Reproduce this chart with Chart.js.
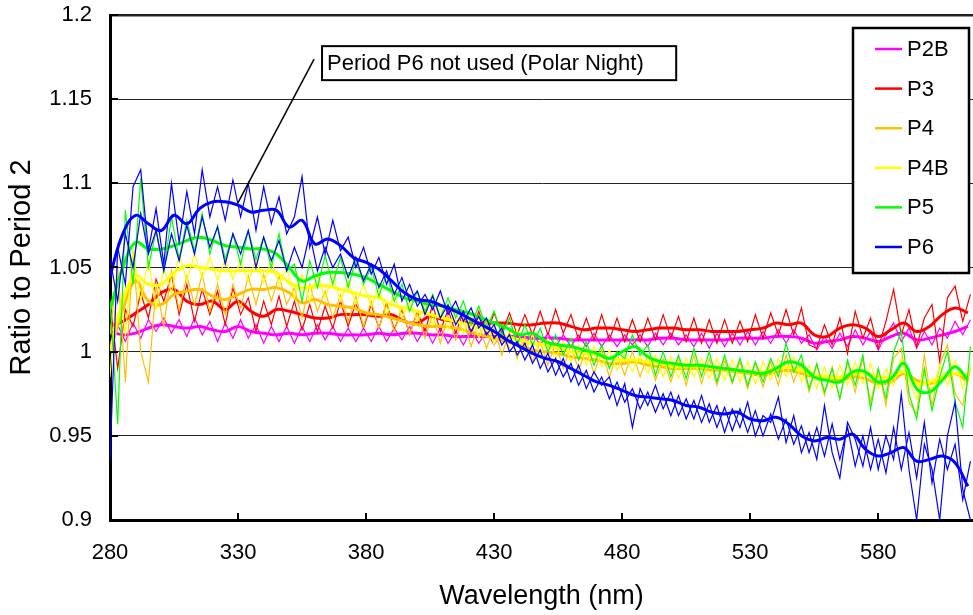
<!DOCTYPE html>
<html lang="en">
<head>
  <meta charset="UTF-8">
  <title>Ratio to Period 2</title>
  <script src="https://cdn.jsdelivr.net/npm/chart.js"></script>
  <style>
    html, body { margin: 0; padding: 0; background: #fff; }
    canvas { display: block; }
  </style>
</head>
<body>
  <canvas id="ratioChart" width="973" height="615"></canvas>
  <script>
    // wavelengths (nm)
    const wlSmooth = [
      280, 285, 290, 295, 300, 305, 310, 315, 320, 325,
      330, 335, 340, 345, 350, 355, 360, 365, 370, 375,
      380, 385, 390, 395, 400, 405, 410, 415, 420, 425,
      430, 435, 440, 445, 450, 455, 460, 465, 470, 475,
      480, 485, 490, 495, 500, 505, 510, 515, 520, 525,
      530, 535, 540, 545, 550, 555, 560, 565, 570, 575,
      580, 585, 590, 595, 600, 605, 610, 615
    ];
    const wlRaw = [
      280, 283, 286, 289, 292, 295, 298, 301, 304, 307,
      310, 313, 316, 319, 322, 325, 328, 331, 334, 337,
      340, 343, 346, 349, 352, 355, 358, 361, 364, 367,
      370, 373, 376, 379, 382, 385, 388, 391, 394, 397,
      400, 403, 406, 409, 412, 415, 418, 421, 424, 427,
      430, 433, 436, 439, 442, 445, 448, 451, 454, 457,
      460, 463, 466, 469, 472, 475, 478, 481, 484, 487,
      490, 493, 496, 499, 502, 505, 508, 511, 514, 517,
      520, 523, 526, 529, 532, 535, 538, 541, 544, 547,
      550, 553, 556, 559, 562, 565, 568, 571, 574, 577,
      580, 583, 586, 589, 592, 595, 598, 601, 604, 607,
      610, 613, 616
    ];

    // smoothed ratios
    const p2bSmooth = [
      1.012, 1.010, 1.011, 1.014, 1.016, 1.015, 1.014, 1.015, 1.013, 1.012,
      1.015, 1.012, 1.011, 1.010, 1.011, 1.010, 1.011, 1.011, 1.010, 1.010,
      1.010, 1.011, 1.010, 1.011, 1.011, 1.010, 1.010, 1.009, 1.009, 1.009,
      1.009, 1.009, 1.009, 1.008, 1.008, 1.008, 1.007, 1.007, 1.007, 1.007,
      1.007, 1.007, 1.007, 1.008, 1.008, 1.007, 1.007, 1.007, 1.007, 1.008,
      1.008, 1.008, 1.009, 1.009, 1.008, 1.005, 1.006, 1.007, 1.009, 1.008,
      1.006, 1.009, 1.011, 1.007, 1.008, 1.010, 1.012, 1.015
    ];
    const p3Smooth = [
      1.015, 1.018, 1.023, 1.028, 1.035, 1.037, 1.030, 1.028, 1.030, 1.025,
      1.030, 1.024, 1.021, 1.025, 1.024, 1.022, 1.020, 1.020, 1.022, 1.022,
      1.022, 1.021, 1.022, 1.018, 1.017, 1.021, 1.019, 1.018, 1.017, 1.017,
      1.017, 1.017, 1.016, 1.016, 1.017, 1.017, 1.015, 1.013, 1.014, 1.014,
      1.013, 1.012, 1.013, 1.014, 1.014, 1.013, 1.013, 1.012, 1.012, 1.012,
      1.013, 1.014, 1.017, 1.016, 1.017, 1.010, 1.009, 1.014, 1.016, 1.014,
      1.009, 1.013, 1.017, 1.012, 1.015, 1.022, 1.026, 1.023
    ];
    const p4Smooth = [
      1.000, 1.025, 1.042, 1.030, 1.028, 1.034, 1.036, 1.037, 1.033, 1.031,
      1.034, 1.037, 1.037, 1.038, 1.035, 1.029, 1.031, 1.028, 1.027, 1.026,
      1.023, 1.022, 1.020, 1.018, 1.016, 1.015, 1.015, 1.014, 1.012, 1.010,
      1.008, 1.006, 1.004, 1.001, 1.000, 0.999, 0.997, 0.996, 0.995, 0.993,
      0.993, 0.994, 0.992, 0.991, 0.990, 0.990, 0.990, 0.989, 0.989, 0.988,
      0.987, 0.986, 0.988, 0.989, 0.987, 0.985, 0.985, 0.983, 0.985, 0.984,
      0.981, 0.982, 0.987, 0.983, 0.981, 0.984, 0.987, 0.982
    ];
    const p4bSmooth = [
      1.000, 1.030, 1.045, 1.040, 1.040, 1.047, 1.051, 1.050, 1.049, 1.048,
      1.048, 1.048, 1.048, 1.047, 1.041, 1.038, 1.039, 1.039, 1.037, 1.035,
      1.033, 1.032, 1.028, 1.026, 1.024, 1.022, 1.020, 1.018, 1.016, 1.014,
      1.011, 1.009, 1.007, 1.005, 1.004, 1.002, 1.000, 0.999, 0.998, 0.996,
      0.995, 0.995, 0.994, 0.993, 0.991, 0.991, 0.991, 0.991, 0.990, 0.989,
      0.988, 0.988, 0.990, 0.991, 0.989, 0.986, 0.985, 0.985, 0.987, 0.987,
      0.985, 0.985, 0.988, 0.981, 0.982, 0.985, 0.987, 0.986
    ];
    const p5Smooth = [
      1.025, 1.050, 1.065, 1.061, 1.061, 1.063, 1.066, 1.068, 1.066, 1.063,
      1.062, 1.061, 1.061, 1.058, 1.050, 1.042, 1.045, 1.047, 1.047, 1.046,
      1.044, 1.040, 1.036, 1.032, 1.030, 1.028, 1.027, 1.025, 1.023, 1.020,
      1.017, 1.014, 1.010, 1.011, 1.006, 1.004, 1.003, 1.001, 0.999, 0.996,
      1.000, 1.003, 0.997, 0.994, 0.993, 0.992, 0.992, 0.991, 0.990, 0.989,
      0.988, 0.987, 0.990, 0.994, 0.992, 0.985, 0.983, 0.982, 0.988, 0.988,
      0.982, 0.984, 0.993, 0.978, 0.976, 0.983, 0.991, 0.983
    ];
    const p6Smooth = [
      1.045, 1.070, 1.081, 1.076, 1.072, 1.081, 1.076, 1.085, 1.089, 1.089,
      1.087, 1.083, 1.084, 1.084, 1.074, 1.078, 1.064, 1.067, 1.063, 1.056,
      1.053, 1.049, 1.042, 1.035, 1.031, 1.030, 1.027, 1.024, 1.020, 1.016,
      1.012, 1.007, 1.003, 0.999, 0.996, 0.994, 0.990, 0.986, 0.982, 0.980,
      0.977, 0.974, 0.973, 0.972, 0.971, 0.968, 0.967, 0.964, 0.963, 0.964,
      0.960, 0.959, 0.961, 0.957, 0.950, 0.947, 0.949, 0.948, 0.951, 0.942,
      0.938, 0.940, 0.943, 0.935, 0.936, 0.938, 0.934, 0.920
    ];

    // raw ratios
    const p2bRaw = [
      1.005, 1.016, 1.006, 1.017, 1.008, 1.019, 1.012, 1.020, 1.011, 1.019,
      1.009, 1.020, 1.010, 1.018, 1.006, 1.017, 1.008, 1.019, 1.008, 1.016,
      1.005, 1.015, 1.006, 1.015, 1.005, 1.015, 1.006, 1.016, 1.007, 1.015,
      1.006, 1.014, 1.006, 1.014, 1.006, 1.015, 1.006, 1.014, 1.007, 1.015,
      1.006, 1.014, 1.005, 1.014, 1.005, 1.012, 1.004, 1.013, 1.005, 1.012,
      1.004, 1.012, 1.005, 1.012, 1.004, 1.011, 1.004, 1.011, 1.003, 1.010,
      1.003, 1.010, 1.003, 1.011, 1.003, 1.010, 1.003, 1.010, 1.004, 1.010,
      1.003, 1.011, 1.004, 1.011, 1.004, 1.010, 1.003, 1.011, 1.002, 1.011,
      1.003, 1.011, 1.004, 1.012, 1.004, 1.012, 1.005, 1.013, 1.005, 1.013,
      1.005, 1.010, 1.001, 1.009, 1.002, 1.011, 1.003, 1.013, 1.004, 1.012,
      1.001, 1.010, 1.017, 1.006, 1.014, 1.002, 1.012, 1.004, 1.014, 1.008,
      1.018, 1.010, 1.019
    ];
    const p3Raw = [
      1.030, 0.990, 1.025, 1.015, 1.035, 1.020, 1.043, 1.030, 1.046, 1.022,
      1.040, 1.018, 1.037, 1.022, 1.036, 1.016, 1.038, 1.022, 1.032, 1.012,
      1.030, 1.016, 1.033, 1.015, 1.030, 1.013, 1.028, 1.012, 1.027, 1.014,
      1.030, 1.015, 1.029, 1.014, 1.028, 1.014, 1.029, 1.013, 1.025, 1.010,
      1.024, 1.012, 1.028, 1.012, 1.025, 1.011, 1.024, 1.010, 1.024, 1.010,
      1.023, 1.011, 1.023, 1.010, 1.022, 1.010, 1.024, 1.010, 1.025, 1.011,
      1.022, 1.007, 1.020, 1.007, 1.022, 1.007, 1.020, 1.006, 1.019, 1.006,
      1.020, 1.007, 1.022, 1.008, 1.021, 1.006, 1.020, 1.005, 1.019, 1.005,
      1.019, 1.005, 1.018, 1.006, 1.022, 1.008, 1.023, 1.010, 1.025, 1.010,
      1.026, 1.004, 1.002, 1.016, 1.004, 1.020, 0.999, 1.024, 1.008, 1.020,
      1.002, 1.018, 1.037, 1.010, 1.025, 1.003, 1.020, 1.028, 0.994, 1.032,
      1.039, 1.018, 1.034
    ];
    const p4Raw = [
      1.010, 1.050, 0.982, 1.060, 1.000, 0.982, 1.040, 1.015, 1.048, 1.025,
      1.045, 1.028, 1.046, 1.024, 1.040, 1.022, 1.040, 1.026, 1.045, 1.028,
      1.046, 1.030, 1.045, 1.028, 1.038, 1.020, 1.040, 1.024, 1.036, 1.020,
      1.034, 1.018, 1.033, 1.015, 1.030, 1.014, 1.028, 1.012, 1.026, 1.010,
      1.023, 1.008, 1.022, 1.005, 1.021, 1.007, 1.020, 1.003, 1.017, 1.002,
      1.014, 0.998, 1.012, 0.996, 1.009, 0.994, 1.006, 0.992, 1.005, 0.990,
      1.004, 0.989, 1.002, 0.987, 1.001, 0.985, 0.999, 0.986, 1.000, 0.985,
      0.998, 0.983, 0.996, 0.982, 0.996, 0.980, 0.998, 0.981, 0.996, 0.980,
      0.995, 0.981, 0.994, 0.978, 0.993, 0.979, 0.994, 0.980, 0.998, 0.982,
      0.994, 0.976, 0.992, 0.974, 0.991, 0.972, 0.994, 0.976, 0.996, 0.970,
      0.990, 0.968, 0.996, 1.002, 0.970, 0.963, 0.998, 0.968, 0.992, 1.004,
      0.975, 0.968, 0.990
    ];
    const p4bRaw = [
      0.985, 1.045, 1.010, 1.060, 1.030, 1.055, 1.025, 1.050, 1.035, 1.058,
      1.042, 1.058, 1.044, 1.056, 1.042, 1.055, 1.043, 1.054, 1.042, 1.055,
      1.041, 1.054, 1.040, 1.050, 1.032, 1.046, 1.030, 1.046, 1.032, 1.045,
      1.030, 1.042, 1.028, 1.040, 1.027, 1.038, 1.022, 1.034, 1.020, 1.030,
      1.018, 1.028, 1.016, 1.026, 1.013, 1.024, 1.011, 1.022, 1.008, 1.018,
      1.004, 1.015, 1.002, 1.013, 1.000, 1.010, 0.998, 1.008, 0.996, 1.006,
      0.994, 1.004, 0.992, 1.003, 0.991, 1.001, 0.989, 0.999, 0.988, 0.998,
      0.987, 0.998, 0.985, 0.997, 0.984, 0.996, 0.985, 0.996, 0.984, 0.996,
      0.983, 0.995, 0.982, 0.994, 0.981, 0.994, 0.983, 0.996, 0.985, 0.997,
      0.982, 0.992, 0.978, 0.991, 0.978, 0.992, 0.980, 0.994, 0.981, 0.993,
      0.978, 0.990, 0.980, 0.996, 0.982, 0.972, 0.990, 0.976, 0.992, 0.980,
      0.995, 0.978, 0.992
    ];
    const p5Raw = [
      1.030, 0.957, 1.084, 1.040, 1.103, 1.050, 1.072, 1.048, 1.080, 1.055,
      1.078, 1.060, 1.082, 1.058, 1.075, 1.055, 1.070, 1.052, 1.072, 1.055,
      1.068, 1.050, 1.070, 1.048, 1.052, 1.030, 1.054, 1.038, 1.057, 1.040,
      1.056, 1.038, 1.055, 1.040, 1.050, 1.033, 1.046, 1.030, 1.040, 1.024,
      1.036, 1.024, 1.034, 1.020, 1.032, 1.020, 1.030, 1.016, 1.027, 1.014,
      1.024, 1.010, 1.020, 1.004, 1.016, 1.004, 1.014, 1.000, 1.010, 0.998,
      1.008, 0.995, 1.006, 0.992, 1.004, 0.990, 1.000, 0.996, 1.010, 0.998,
      1.004, 0.986, 1.000, 0.985, 0.998, 0.984, 1.002, 0.985, 1.000, 0.982,
      0.998, 0.982, 0.996, 0.980, 0.994, 0.982, 0.996, 0.985, 1.005, 0.988,
      0.998, 0.978, 0.993, 0.976, 0.990, 0.972, 0.995, 0.980, 0.998, 0.966,
      0.990, 0.972, 1.000, 1.012, 0.975, 0.960, 0.990, 0.965, 0.985, 1.000,
      0.970, 0.955, 1.003
    ];
    const p6RawA = [
      0.935, 1.062, 1.040, 1.098, 1.108, 1.060, 1.085, 1.052, 1.100, 1.065,
      1.095, 1.070, 1.108, 1.080, 1.098, 1.078, 1.102, 1.080, 1.100, 1.072,
      1.098, 1.076, 1.092, 1.070, 1.080, 1.104, 1.062, 1.080, 1.058, 1.078,
      1.060, 1.068, 1.050, 1.062, 1.046, 1.056, 1.040, 1.052, 1.030, 1.040,
      1.027, 1.034, 1.025, 1.036, 1.022, 1.030, 1.018, 1.026, 1.014, 1.020,
      1.008, 1.014, 1.000, 1.006, 0.995, 1.004, 0.990, 0.999, 0.986, 0.996,
      0.982, 0.992, 0.978, 0.988, 0.980, 0.985, 0.968, 0.981, 0.955, 0.978,
      0.968, 0.980, 0.966, 0.976, 0.962, 0.972, 0.960, 0.974, 0.958, 0.968,
      0.952, 0.966, 0.955, 0.970, 0.950, 0.962, 0.958, 0.973, 0.946, 0.962,
      0.940, 0.952, 0.936, 0.968, 0.940, 0.925, 0.958, 0.948, 0.932, 0.955,
      0.930, 0.950, 0.936, 0.975, 0.930, 0.900, 0.945, 0.930, 0.900, 0.950,
      0.970, 0.918, 0.900
    ];
    const p6RawB = [
      1.055, 1.030, 1.070, 1.050, 1.082, 1.058, 1.072, 1.048, 1.070, 1.054,
      1.075, 1.058, 1.080, 1.062, 1.074, 1.052, 1.070, 1.058, 1.072, 1.050,
      1.068, 1.054, 1.066, 1.048, 1.062, 1.050, 1.070, 1.048, 1.062, 1.050,
      1.058, 1.044, 1.056, 1.042, 1.052, 1.038, 1.048, 1.034, 1.044, 1.030,
      1.036, 1.022, 1.033, 1.020, 1.028, 1.016, 1.024, 1.012, 1.021, 1.010,
      1.016, 1.004, 1.010, 0.998, 1.005, 0.993, 1.001, 0.988, 0.996, 0.985,
      0.993, 0.980, 0.989, 0.976, 0.985, 0.972, 0.982, 0.970, 0.978, 0.966,
      0.976, 0.964, 0.975, 0.962, 0.974, 0.960, 0.971, 0.958, 0.969, 0.955,
      0.967, 0.953, 0.966, 0.952, 0.965, 0.950, 0.963, 0.948, 0.960, 0.945,
      0.956, 0.940, 0.955, 0.938, 0.957, 0.936, 0.955, 0.932, 0.950, 0.930,
      0.948, 0.928, 0.955, 0.930, 0.952, 0.925, 0.958, 0.922, 0.948, 0.930,
      0.945, 0.912, 0.935
    ];

    const seriesNames = ['P2B', 'P3', 'P4', 'P4B', 'P5', 'P6'];
    const xTicks = [280, 330, 380, 430, 480, 530, 580];
    const yTicks = [0.9, 0.95, 1, 1.05, 1.1, 1.15, 1.2];
    const noteText = 'Period P6 not used (Polar Night)';

    // styling
    const colors = ['#FF00FF', '#FF0000', '#FFC000', '#FFFF00', '#00FF00', '#0000FF'];
    const FONT = '"Liberation Sans", Arial, sans-serif';
    // callout placement in axis units: box corners, leader start and tip
    const noteLayout = { x0: 362.8, x1: 501.1, yTop: 1.1815, yBot: 1.1613, fromX: 359.7, fromY: 1.1738, toX: 330, toY: 1.0885 };

    const pair = (xs, ys) => ys.map((v, i) => ({ x: xs[i], y: v }));

    const smoothSets = [p2bSmooth, p3Smooth, p4Smooth, p4bSmooth, p5Smooth, p6Smooth];
    const rawSets = [[p2bRaw], [p3Raw], [p4Raw], [p4bRaw], [p5Raw], [p6RawA, p6RawB]];

    const datasets = [];
    seriesNames.forEach((name, i) => {
      const layer = (5 - i) * 3;
      rawSets[i].forEach((raw, k) => {
        datasets.push({
          label: name + ' raw',
          data: pair(wlRaw, raw),
          borderColor: colors[i],
          borderWidth: 1.2,
          pointRadius: 0,
          tension: 0,
          order: layer + 1 + k
        });
      });
      datasets.push({
        label: name,
        data: pair(wlSmooth, smoothSets[i]),
        borderColor: colors[i],
        borderWidth: 3,
        pointRadius: 0,
        tension: 0.4,
        order: layer
      });
    });

    const extras = {
      id: 'extras',
      afterDatasetsDraw(chart) {
        const { ctx, chartArea: a, scales: { x, y } } = chart;
        ctx.save();

        // inward tick marks
        ctx.strokeStyle = '#000';
        ctx.lineWidth = 2;
        xTicks.forEach(v => {
          const px = Math.round(x.getPixelForValue(v));
          ctx.beginPath(); ctx.moveTo(px, a.bottom); ctx.lineTo(px, a.bottom - 7); ctx.stroke();
        });
        yTicks.forEach(v => {
          const py = Math.round(y.getPixelForValue(v));
          ctx.beginPath(); ctx.moveTo(a.left, py); ctx.lineTo(a.left + 8, py); ctx.stroke();
        });

        // callout
        const n = noteLayout;
        ctx.lineWidth = 1.5;
        ctx.beginPath();
        ctx.moveTo(x.getPixelForValue(n.fromX), y.getPixelForValue(n.fromY));
        ctx.lineTo(x.getPixelForValue(n.toX), y.getPixelForValue(n.toY));
        ctx.stroke();
        const bx = x.getPixelForValue(n.x0), bx1 = x.getPixelForValue(n.x1);
        const by = y.getPixelForValue(n.yTop), by1 = y.getPixelForValue(n.yBot);
        ctx.fillStyle = '#fff';
        ctx.fillRect(bx, by, bx1 - bx, by1 - by);
        ctx.lineWidth = 2;
        ctx.strokeRect(bx, by, bx1 - bx, by1 - by);
        ctx.fillStyle = '#000';
        ctx.font = '22px ' + FONT;
        ctx.textBaseline = 'middle';
        ctx.textAlign = 'left';
        ctx.fillText(noteText, bx + 5, (by + by1) / 2 + 1);

        // legend box
        const lx = a.right - 120, ly = a.top + 13, lw = 116, lh = 245;
        ctx.fillStyle = '#fff';
        ctx.fillRect(lx, ly, lw, lh);
        ctx.lineWidth = 2.5;
        ctx.strokeStyle = '#000';
        ctx.strokeRect(lx, ly, lw, lh);
        seriesNames.forEach((name, i) => {
          const ry = ly + 21 + i * 39.6;
          ctx.strokeStyle = colors[i];
          ctx.lineWidth = 2.5;
          ctx.beginPath(); ctx.moveTo(lx + 22, ry); ctx.lineTo(lx + 49, ry); ctx.stroke();
          ctx.fillStyle = '#000';
          ctx.fillText(name, lx + 54, ry + 1);
        });
        ctx.restore();
      }
    };

    new Chart(document.getElementById('ratioChart'), {
      type: 'line',
      data: { datasets },
      plugins: [extras],
      options: {
        responsive: false,
        animation: false,
        devicePixelRatio: 1,
        layout: { padding: { top: 15, right: 0, bottom: 0, left: 0 } },
        plugins: {
          legend: { display: false },
          tooltip: { enabled: false }
        },
        scales: {
          x: {
            type: 'linear',
            min: 280,
            max: 617,
            afterBuildTicks: s => { s.ticks = xTicks.map(v => ({ value: v })); },
            afterFit: s => { s.height = 95; s.paddingLeft = 0; s.paddingRight = 0; },
            grid: { display: false, drawTicks: false },
            border: { display: true, color: '#000', width: 3 },
            ticks: { color: '#000', font: { family: FONT, size: 22 }, padding: 20, maxRotation: 0, autoSkip: false },
            title: { display: true, text: 'Wavelength (nm)', color: '#000', font: { family: FONT, size: 27 }, padding: { top: 0, bottom: 2 } }
          },
          y: {
            min: 0.9,
            max: 1.2,
            afterBuildTicks: s => { s.ticks = yTicks.map(v => ({ value: v })); },
            afterFit: s => { s.width = 110; s.paddingTop = 0; s.paddingBottom = 0; },
            grid: {
              color: '#222',
              lineWidth: c => (c.tick && c.tick.value === 1.2 ? 2.5 : 1),
              drawTicks: false
            },
            border: { display: true, color: '#000', width: 3 },
            ticks: {
              color: '#000',
              font: { family: FONT, size: 22 },
              padding: 18,
              callback: v => String(Number(v.toFixed(2)))
            },
            title: { display: true, text: 'Ratio to Period 2', color: '#000', font: { family: FONT, size: 29 }, padding: { top: 5, bottom: 0 } }
          }
        }
      }
    });
  </script>
</body>
</html>
